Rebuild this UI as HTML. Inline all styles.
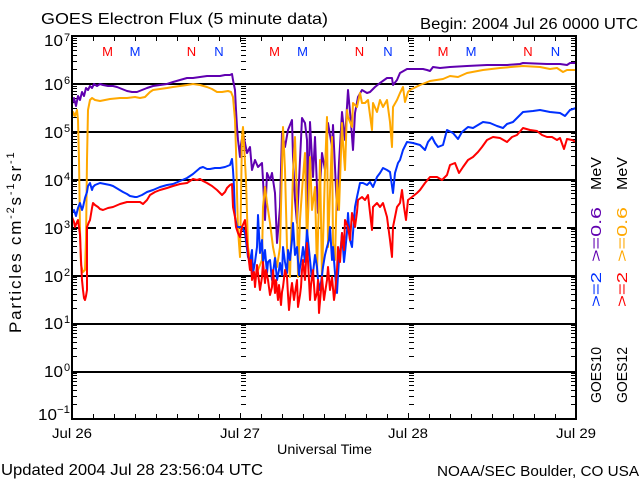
<!DOCTYPE html>
<html>
<head>
<meta charset="utf-8">
<style>
html,body{margin:0;padding:0;background:#fff;}
svg{display:block;}
text{font-family:"Liberation Sans",sans-serif;fill:#000;}
</style>
</head>
<body>
<svg width="640" height="480" viewBox="0 0 640 480" xmlns="http://www.w3.org/2000/svg">
<rect x="0" y="0" width="640" height="480" fill="#fff"/>
<defs>
<path id="mt" stroke="#000" stroke-width="1" fill="none" shape-rendering="crispEdges" d="M0 404.5h5M0 396.5h5M0 390.5h5M0 385.5h5M0 381.5h5M0 378.5h5M0 375.5h5M0 373.5h5
M0 356.5h5M0 348.5h5M0 342.5h5M0 337.5h5M0 333.5h5M0 330.5h5M0 327.5h5M0 325.5h5
M0 308.5h5M0 300.5h5M0 294.5h5M0 289.5h5M0 285.5h5M0 282.5h5M0 279.5h5M0 277.5h5
M0 260.5h5M0 252.5h5M0 246.5h5M0 241.5h5M0 237.5h5M0 234.5h5M0 231.5h5M0 229.5h5
M0 212.5h5M0 204.5h5M0 198.5h5M0 193.5h5M0 190.5h5M0 186.5h5M0 184.5h5M0 181.5h5
M0 165.5h5M0 156.5h5M0 150.5h5M0 146.5h5M0 142.5h5M0 139.5h5M0 136.5h5M0 133.5h5
M0 117.5h5M0 108.5h5M0 102.5h5M0 98.5h5M0 94.5h5M0 91.5h5M0 88.5h5M0 86.5h5
M0 69.5h5M0 61.5h5M0 55.5h5M0 50.5h5M0 46.5h5M0 43.5h5M0 40.5h5M0 38.5h5
M0 371.5h5M0 323.5h5M0 275.5h5M0 227.5h5M0 179.5h5M0 131.5h5M0 83.5h5"/>
</defs>

<!-- Title texts -->
<text x="41" y="24" font-size="16" textLength="287" lengthAdjust="spacingAndGlyphs">GOES Electron Flux (5 minute data)</text>
<text x="420" y="29" font-size="16" textLength="218" lengthAdjust="spacingAndGlyphs">Begin: 2004 Jul 26 0000 UTC</text>

<!-- grid lines -->
<g stroke="#000" stroke-width="2" shape-rendering="crispEdges">
<line x1="72" y1="84" x2="576" y2="84"/>
<line x1="72" y1="132" x2="576" y2="132"/>
<line x1="72" y1="180" x2="576" y2="180"/>
<line x1="72" y1="228" x2="576" y2="228" stroke-dasharray="9 6"/>
<line x1="72" y1="276" x2="576" y2="276"/>
<line x1="72" y1="324" x2="576" y2="324"/>
<line x1="72" y1="372" x2="576" y2="372"/>
</g>

<!-- minor ticks -->
<use href="#mt" x="72"/>
<use href="#mt" x="571"/>
<use href="#mt" x="241"/>
<use href="#mt" x="409"/>

<!-- top/bottom ticks -->
<path stroke="#000" stroke-width="1" fill="none" shape-rendering="crispEdges" d="M93.5 419v-5M114.5 419v-5M135.5 419v-5M156.5 419v-5M177.5 419v-5M198.5 419v-5M219.5 419v-5M240.5 419v-6M261.5 419v-5M282.5 419v-5M303.5 419v-5M324.5 419v-5M345.5 419v-5M366.5 419v-5M387.5 419v-5M408.5 419v-6M429.5 419v-5M450.5 419v-5M471.5 419v-5M492.5 419v-5M513.5 419v-5M534.5 419v-5M555.5 419v-5
M93.5 36v5M114.5 36v5M135.5 36v5M156.5 36v5M177.5 36v5M198.5 36v5M219.5 36v5M240.5 36v6M261.5 36v5M282.5 36v5M303.5 36v5M324.5 36v5M345.5 36v5M366.5 36v5M387.5 36v5M408.5 36v6M429.5 36v5M450.5 36v5M471.5 36v5M492.5 36v5M513.5 36v5M534.5 36v5M555.5 36v5"/>

<!-- Data series -->
<g fill="none" stroke-width="2" stroke-linejoin="round">
<polyline stroke="#6000b0" points="72,104 74,98 76,106 78,96 80,100 82,92 84,96 86,88 88,90 90,86 92,88 94,84 97,86 100,84 103,85 108,86 113,86 117,87 122,89 127,91 132,92 137,92 142,90 147,88 153,86 160,85 167,84 173,82 180,80 187,78 193,78 200,77 207,76 213,76 220,76 225,75 230,75 232,74 233,80 235,90 236,110 237,127 238,140 240,157 240,150 243,133 247,153 250,147 252,170 255,160 258,167 262,163 263,180 265,220 267,173 270,180 272,173 275,193 277,243 280,207 282,133 285,147 288,130 292,120 293,157 295,200 297,223 300,160 302,118 305,123 307,140 308,213 310,122 313,177 315,137 318,213 320,187 322,153 325,170 328,123 332,147 333,125 337,210 339,163 342,112 345,140 348,90 351,123 353,150 355,113 358,97 362,90 367,93 370,92 375,87 380,83 387,78 392,78 393,85 397,80 400,73 407,69 413,69 423,69 427,70 430,71 433,67 440,68 450,67 467,66 487,65 507,65 520,64 523,63 547,64 560,64 567,65 570,63 576,63"/>
<polyline stroke="#ffa800" points="72,118 73,112 75,116 77,110 78,120 79,160 80,230 81,265 83,272 85,270 86,240 87,160 88,110 90,100 92,98 95,100 100,101 105,100 110,99 120,98 127,98 135,97 140,98 145,97 147,95 150,92 153,90 160,89 167,88 173,87 180,86 187,85 193,84 200,85 207,87 212,89 217,92 222,92 228,91 231,92 233,97 235,120 236,150 237,193 238,230 240,257 242,137 243,127 246,180 248,247 252,273 255,277 258,270 262,260 263,207 265,187 267,203 270,223 273,247 277,267 280,247 283,127 285,170 287,247 290,277 293,173 295,137 297,200 298,277 300,220 303,177 305,153 307,247 310,157 312,210 315,187 317,273 320,160 322,280 325,170 327,117 328,247 332,137 333,243 335,260 337,180 339,210 342,123 343,143 345,170 347,110 348,117 352,127 353,103 357,107 360,93 362,103 365,103 368,100 372,130 373,103 377,112 380,100 383,107 387,100 390,122 392,147 393,107 397,100 400,93 403,87 405,102 408,92 410,90 420,85 430,81 443,79 450,76 458,77 467,73 483,70 500,68 523,66 540,67 550,69 557,68 563,72 567,70 576,70"/>
<polyline stroke="#0030ff" points="72,213 74,210 76,216 78,208 80,203 82,210 83,207 85,198 87,192 88,186 90,183 92,190 93,187 95,185 100,183 105,184 110,185 113,186 118,189 123,192 127,194 130,196 135,197 137,197 142,195 147,192 153,190 160,187 167,185 173,184 180,181 187,178 193,174 200,168 203,167 207,169 210,169 215,168 220,168 225,167 230,165 232,159 233,170 234,187 235,217 237,227 240,227 242,227 245,233 248,257 250,262 252,250 253,273 255,262 257,247 258,215 260,253 262,240 263,263 265,250 267,273 268,262 270,260 272,280 273,273 275,258 277,280 279,270 280,263 282,275 283,247 285,262 287,273 288,250 290,260 292,240 293,223 295,255 297,247 299,275 300,267 302,255 303,247 305,262 307,230 309,250 310,260 312,280 313,273 315,255 317,267 318,280 320,290 322,275 323,267 325,255 327,247 329,240 330,227 332,260 333,247 335,273 336,285 337,293 338,275 339,260 341,245 342,233 344,262 345,253 347,232 348,213 350,240 352,247 353,233 355,207 357,197 360,183 363,183 367,185 370,182 373,187 377,177 380,173 383,168 387,170 390,172 393,193 395,173 398,163 400,160 403,150 407,142 413,143 420,145 425,150 428,142 432,137 435,143 438,147 443,145 447,130 453,133 458,139 462,132 468,127 473,128 478,125 483,122 490,123 497,126 503,128 507,124 513,122 518,117 523,112 533,111 540,110 550,112 560,113 565,116 570,110 576,108"/>
<polyline stroke="#ff0000" points="72,217 74,222 75,227 77,222 78,220 80,235 81,260 82,280 83,290 84,298 85,300 86,296 87,290 87,227 89,222 90,220 92,208 93,203 95,205 98,207 100,209 103,210 108,208 113,207 120,204 127,202 133,202 140,202 143,204 147,200 150,195 155,192 160,190 167,188 173,186 180,184 187,183 190,181 193,179 197,180 200,179 203,181 207,183 212,186 217,190 222,195 225,192 227,188 230,185 232,184 233,207 235,217 236,227 238,233 240,237 242,227 245,220 248,253 250,270 251,260 252,280 254,272 255,287 257,265 258,273 260,290 262,277 263,262 265,283 266,270 268,280 270,295 272,287 273,270 275,293 276,280 278,300 279,285 281,305 282,292 283,287 285,270 287,277 288,295 289,310 291,290 292,283 294,300 295,293 297,280 298,307 300,295 301,287 302,270 303,260 305,280 307,243 309,280 310,300 311,285 313,270 315,300 317,293 318,280 319,313 321,290 322,277 324,300 325,293 327,280 328,267 330,290 332,277 334,300 335,293 337,270 338,247 340,262 342,233 344,250 345,220 348,227 350,240 352,213 355,227 357,212 358,200 362,197 365,200 368,195 372,230 373,207 377,203 380,207 383,203 387,217 390,240 392,257 393,227 397,207 400,203 402,190 404,207 406,220 408,200 412,197 417,193 420,190 425,183 430,177 437,177 442,180 447,175 450,165 455,163 459,173 463,167 468,160 473,157 478,152 482,147 487,140 493,137 500,138 507,142 512,137 517,135 523,128 530,130 537,131 542,135 547,137 552,137 557,140 560,138 564,149 567,139 572,140 576,142"/>
</g>

<!-- axes box -->
<rect x="72" y="36" width="504" height="383" fill="none" stroke="#000" stroke-width="2" shape-rendering="crispEdges"/>

<!-- M/N markers -->
<g font-size="13" text-anchor="middle">
<text x="107.5" y="56" style="fill:#ff0000">M</text>
<text x="135" y="56" style="fill:#0030ff">M</text>
<text x="191.5" y="56" style="fill:#ff0000">N</text>
<text x="219" y="56" style="fill:#0030ff">N</text>
<text x="274.5" y="56" style="fill:#ff0000">M</text>
<text x="302.5" y="56" style="fill:#0030ff">M</text>
<text x="359.5" y="56" style="fill:#ff0000">N</text>
<text x="388" y="56" style="fill:#0030ff">N</text>
<text x="443" y="56" style="fill:#ff0000">M</text>
<text x="471" y="56" style="fill:#0030ff">M</text>
<text x="528" y="56" style="fill:#ff0000">N</text>
<text x="555.5" y="56" style="fill:#0030ff">N</text>
</g>

<!-- Y tick labels -->
<g font-size="16">
<text x="44" y="46" textLength="19" lengthAdjust="spacingAndGlyphs">10</text>
<text x="44" y="90" textLength="19" lengthAdjust="spacingAndGlyphs">10</text>
<text x="44" y="138" textLength="19" lengthAdjust="spacingAndGlyphs">10</text>
<text x="44" y="186" textLength="19" lengthAdjust="spacingAndGlyphs">10</text>
<text x="44" y="234" textLength="19" lengthAdjust="spacingAndGlyphs">10</text>
<text x="44" y="282" textLength="19" lengthAdjust="spacingAndGlyphs">10</text>
<text x="44" y="329" textLength="19" lengthAdjust="spacingAndGlyphs">10</text>
<text x="44" y="377" textLength="19" lengthAdjust="spacingAndGlyphs">10</text>
<text x="38" y="420" textLength="19" lengthAdjust="spacingAndGlyphs">10</text>
</g>
<g font-size="11">
<text x="64" y="41">7</text>
<text x="64" y="84">6</text>
<text x="64" y="132">5</text>
<text x="64" y="180">4</text>
<text x="64" y="228">3</text>
<text x="64" y="276">2</text>
<text x="64" y="323">1</text>
<text x="64" y="371">0</text>
<text x="57" y="413" textLength="13" lengthAdjust="spacingAndGlyphs">−1</text>
</g>

<!-- X tick labels -->
<g font-size="14">
<text x="52" y="438" textLength="40" lengthAdjust="spacingAndGlyphs">Jul 26</text>
<text x="220" y="438" textLength="40" lengthAdjust="spacingAndGlyphs">Jul 27</text>
<text x="388" y="438" textLength="40" lengthAdjust="spacingAndGlyphs">Jul 28</text>
<text x="556" y="438" textLength="40" lengthAdjust="spacingAndGlyphs">Jul 29</text>
<text x="277" y="454" textLength="95" lengthAdjust="spacingAndGlyphs">Universal Time</text>
</g>

<!-- footer -->
<text x="1" y="475" font-size="16" textLength="262" lengthAdjust="spacingAndGlyphs">Updated 2004 Jul 28 23:56:04 UTC</text>
<text x="437" y="476" font-size="15" textLength="202" lengthAdjust="spacingAndGlyphs">NOAA/SEC Boulder, CO USA</text>

<!-- Y axis label -->
<text transform="translate(21,333) rotate(-90)" font-size="17" letter-spacing="1.8">Particles cm<tspan dy="-7" font-size="11">-2</tspan><tspan dy="7">s</tspan><tspan dy="-7" font-size="11">-1</tspan><tspan dy="7">sr</tspan><tspan dy="-7" font-size="11">-1</tspan></text>

<!-- Right legend -->
<g font-size="15">
<text transform="translate(601,403) rotate(-90)" textLength="56" lengthAdjust="spacingAndGlyphs">GOES10</text>
<text transform="translate(601,307) rotate(-90)" textLength="35" lengthAdjust="spacingAndGlyphs" style="fill:#0030ff">&gt;=2</text>
<text transform="translate(601,262) rotate(-90)" textLength="55" lengthAdjust="spacingAndGlyphs" style="fill:#6000b0">&gt;=0.6</text>
<text transform="translate(601,190) rotate(-90)" textLength="33" lengthAdjust="spacingAndGlyphs">MeV</text>
<text transform="translate(627,403) rotate(-90)" textLength="56" lengthAdjust="spacingAndGlyphs">GOES12</text>
<text transform="translate(627,307) rotate(-90)" textLength="35" lengthAdjust="spacingAndGlyphs" style="fill:#ff0000">&gt;=2</text>
<text transform="translate(627,262) rotate(-90)" textLength="55" lengthAdjust="spacingAndGlyphs" style="fill:#ffa800">&gt;=0.6</text>
<text transform="translate(627,190) rotate(-90)" textLength="33" lengthAdjust="spacingAndGlyphs">MeV</text>
</g>
</svg>
</body>
</html>
